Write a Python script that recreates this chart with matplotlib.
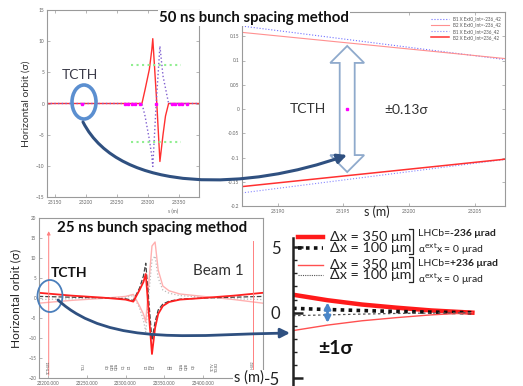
import numpy as np
import matplotlib.pyplot as plt
from matplotlib.patches import Ellipse, Polygon, FancyArrowPatch
from matplotlib.path import Path

plt.rcParams['font.family'] = ['Lato', 'DejaVu Sans']

# --- DATA ---
# top-left: 50 ns method, full bump (sigma)
s_b2_50 = [23137, 23290, 23295, 23302, 23306, 23307.5, 23314, 23319, 23324, 23328, 23333, 23382]
b2_50 = [0, 0, 2.2, 5.5, 8.7, 10.4, 0, -9.3, -5.0, -2.0, 0, 0]
s_b1_50 = [23137, 23290, 23295, 23302, 23306, 23307.5, 23313, 23319, 23324, 23333, 23382]
b1_50 = [0, 0, -2.0, -5.8, -8.5, -10.1, 0, 9.2, 4.4, 0, 0]
s_markers_50 = [23193, 23263, 23268, 23274, 23279, 23287, 23313, 23338, 23344, 23349, 23354, 23362]
s_green = [23272, 23353]
green_level = 6.1

# top-right: zoom at TCTH (sigma)
s_zoom50 = [23187.3, 23207.3]
b1_up = [0.171, 0.102]
b2_up = [0.158, 0.104]
b1_dn = [-0.173, -0.104]
b2_dn = [-0.160, -0.1035]
tcth_s50 = 23195.3
tcth_gap = 0.13
legend_50 = ["B1 X Ext0_Int=-236_42", "B2 X Ext0_Int=-236_42",
             "B1 X Ext0_Int=236_42", "B2 X Ext0_Int=236_42"]

# bottom-left: 25 ns method
s_25 = [23188, 23230, 23270, 23300, 23310, 23318, 23323, 23326, 23330, 23334, 23338,
        23342, 23348, 23356, 23370, 23400, 23440, 23477]
red_350_m = [1.3, 0.6, 0.1, -0.4, -0.9, 2.0, 4.0, 6.0, -4.0, -14.0, -7.5, -4.0, -2.0, -1.0, -0.4, 0.0, 0.6, 1.3]
red_350_p = [-1.3, -0.6, -0.1, 0.4, 0.9, -2.0, -4.0, -6.0, 4.0, 13.0, 14.0, 7.0, 3.0, 1.8, 1.0, 0.4, -0.4, -1.3]
blk_100_m = [0.4, 0.2, 0.05, -0.2, -0.6, 2.5, 5.5, 8.7, -1.0, -10.5, -6.0, -3.0, -1.5, -0.8, -0.3, 0.0, 0.2, 0.4]
gry_100_p = [-0.4, -0.2, -0.05, 0.2, 0.6, -2.5, -5.5, -8.5, 1.0, 9.5, 10.5, 5.0, 2.0, 1.2, 0.6, 0.2, -0.2, -0.4]
tcth_b1_s, tcth_b1_top = 23201, 17.4
tcth_b2_s, tcth_b2_top = 23464, 14.3
elem_s = [23201, 23246, 23276, 23283, 23288, 23297, 23305, 23327, 23333, 23336,
          23356, 23360, 23372, 23378, 23387, 23413, 23418, 23464]
elem_names = ["TCTH.B1", "TCLI", "Q3", "Q2B", "Q2A", "Q1", "D1", "D1", "IP8", "D1",
              "Q1", "D1", "Q2A", "Q2B", "Q3", "TCTV", "TDI.B2", "TCTH.B2"]

# bottom-right: zoom at TCTH (sigma)
s_zoom25 = [0, 1.5, 3, 4.5, 6, 7.8]
z_red_m = [1.37, 0.95, 0.62, 0.38, 0.17, 0]
z_red_p = [-1.37, -0.95, -0.62, -0.38, -0.17, 0]
z_blk_m = [0.33, 0.24, 0.16, 0.09, 0.04, 0]
z_gry_p = [-0.23, -0.17, -0.11, -0.06, -0.03, 0]

W, H = 523, 386
fig = plt.figure(figsize=(W / 100, H / 100), dpi=100)


def box(x0, y0, x1, y1):
    return [x0 / W, 1 - y1 / H, (x1 - x0) / W, (y1 - y0) / H]


def grey_frame(ax, size=3.5):
    for sp in ax.spines.values():
        sp.set_color('#9a9a9a')
        sp.set_linewidth(0.8)
    ax.tick_params(direction='in', length=2, width=0.5, colors='#9a9a9a',
                   labelsize=size, labelcolor='#666666', top=True, right=True, pad=2)


# --- top-left panel ---
ax1 = fig.add_axes(box(47, 10, 199, 197))
ax1.plot(s_b2_50, b2_50, color='#ff3030', lw=1.0)
ax1.plot(s_b1_50, b1_50, color='#8060d0', lw=1.0, ls=':')
ax1.plot(s_markers_50, np.zeros(len(s_markers_50)), 's', color='#ff00ff', ms=1.7, lw=0)
ax1.plot(s_green, [green_level] * 2, color='#90ee90', lw=1.5, ls=':')
ax1.plot(s_green, [-green_level] * 2, color='#90ee90', lw=1.5, ls=':')
ax1.set_xlim(23137, 23382)
ax1.set_ylim(-15, 15)
ax1.set_xticks([23150, 23200, 23250, 23300, 23350])
ax1.set_yticks([-15, -10, -5, 0, 5, 10, 15])
grey_frame(ax1)
ax1.set_ylabel("Horizontal orbit (σ)", fontsize=7.5, color='#333333')
ax1.yaxis.set_label_coords(-0.105, 0.5)

# --- top-right panel ---
ax2 = fig.add_axes(box(242, 12, 505, 206))
ax2.plot(s_zoom50, b1_up, color='#7070ff', lw=0.8, ls=':', label=legend_50[0])
ax2.plot(s_zoom50, b2_up, color='#ff9090', lw=0.8, label=legend_50[1])
ax2.plot(s_zoom50, b1_dn, color='#8888ff', lw=0.8, ls=':', label=legend_50[2])
ax2.plot(s_zoom50, b2_dn, color='#ff3030', lw=1.1, label=legend_50[3])
ax2.plot([tcth_s50], [0], 's', color='#ff00ff', ms=2)
ax2.set_xlim(23187.3, 23207.3)
ax2.set_ylim(-0.2, 0.2)
ax2.set_xticks([23190, 23195, 23200, 23205])
ax2.set_yticks([-0.2, -0.15, -0.1, -0.05, 0, 0.05, 0.1, 0.15, 0.2])
ax2.set_yticklabels(["-0.2", "-0.15", "-0.1", "-0.05", "0", "0.05", "0.1", "0.15", "0.2"])
grey_frame(ax2)
ax2.legend(loc='upper right', fontsize=3.3, frameon=False, handlelength=4,
           labelspacing=0.25, borderaxespad=0.6, labelcolor='#555555')
# hollow double arrow +-0.13 sigma
sw, hw, hl = 0.57, 1.29, 0.035
arrow_pts = [(tcth_s50, tcth_gap), (tcth_s50 + hw, tcth_gap - hl), (tcth_s50 + sw, tcth_gap - hl),
             (tcth_s50 + sw, -tcth_gap + hl), (tcth_s50 + hw, -tcth_gap + hl), (tcth_s50, -tcth_gap),
             (tcth_s50 - hw, -tcth_gap + hl), (tcth_s50 - sw, -tcth_gap + hl),
             (tcth_s50 - sw, tcth_gap - hl), (tcth_s50 - hw, tcth_gap - hl)]
ax2.add_patch(Polygon(arrow_pts, closed=True, facecolor='none', edgecolor='#8faacc', lw=1.3))
ax2.text(23192.3, 0, "TCTH", fontsize=10, color='#333333', ha='center', va='center')
ax2.text(23199.8, -0.003, "±0.13σ", fontsize=10, color='#333333', ha='center', va='center')

# --- bottom-left panel ---
ax3 = fig.add_axes(box(39, 218, 263, 378))
ax3.plot(s_25, gry_100_p, color='#bbbbbb', lw=0.9, ls=':')
ax3.plot(s_25, red_350_p, color='#ffb0b0', lw=1.0)
ax3.plot(s_25, blk_100_m, color='#444444', lw=0.9, ls='--')
ax3.plot(s_25, red_350_m, color='#ff2020', lw=1.3)
ax3.annotate("", xy=(tcth_b1_s, tcth_b1_top), xytext=(tcth_b1_s, -20),
             arrowprops=dict(arrowstyle='-|>', color='#ff8080', lw=0.7, mutation_scale=5))
ax3.plot([tcth_b2_s, tcth_b2_s], [-20, tcth_b2_top], color='#ff8080', lw=0.7)
for s, name in zip(elem_s, elem_names):
    ax3.text(s, -17.2, name, rotation=90, fontsize=2.4, color='#555555',
             ha='center', va='center')
ax3.set_xlim(23188.5, 23477)
ax3.set_ylim(-20, 20)
ax3.set_xticks([23200, 23250, 23300, 23350, 23400])
ax3.set_xticklabels(["23200.000", "23250.000", "23300.000", "23350.000", "23400.000"])
ax3.set_yticks([-20, -15, -10, -5, 0, 5, 10, 15, 20])
grey_frame(ax3, size=3.3)
ax3.tick_params(top=False, right=False)
ax3.set_ylabel("Horizontal orbit (σ)", fontsize=8.5, color='#222222')
ax3.yaxis.set_label_coords(-0.08, 0.5)

# --- bottom-right panel ---
ax4 = fig.add_axes(box(293, 238, 523, 386))
ax4.plot(s_zoom25, z_red_m, color='#ff1a1a', lw=3.2)
ax4.plot(s_zoom25, z_blk_m, color='#111111', lw=2.6, ls=(0, (1, 1.2)))
ax4.plot(s_zoom25, z_red_p, color='#ff5050', lw=1.0)
ax4.plot(s_zoom25, z_gry_p, color='#555555', lw=0.9, ls=(0, (2, 2)))
ax4.annotate("", xy=(1.5, 1.0), xytext=(1.5, -1.0),
             arrowprops=dict(arrowstyle='<|-|>', color='#4a86c8', lw=2, mutation_scale=9))
ax4.set_xlim(0, 10)
ax4.set_ylim(-5.6, 5.7)
for k in ['top', 'right', 'bottom']:
    ax4.spines[k].set_visible(False)
ax4.spines['left'].set_linewidth(1.8)
ax4.spines['left'].set_color('#222222')
ax4.set_xticks([])
ax4.set_yticks([-5, 0, 5])
ax4.set_yticks(np.arange(-5, 6, 1), minor=True)
ax4.tick_params(axis='y', which='major', direction='in', length=7, width=1.8,
                labelsize=12, colors='#222222', pad=9)
ax4.tick_params(axis='y', which='minor', direction='in', length=3, width=1, colors='#222222')
ax4.patch.set_alpha(0)

# --- overlay: titles, circles, curved arrows, legend of bottom-right ---
ov = fig.add_axes([0, 0, 1, 1], zorder=10)
ov.set_xlim(0, W)
ov.set_ylim(H, 0)
ov.axis('off')
ov.patch.set_alpha(0)

ov.text(254, 18, "50 ns bunch spacing method", fontsize=10.8, fontweight='bold',
        ha='center', va='center', color='#111111',
        bbox=dict(facecolor='white', edgecolor='none', pad=1))
ov.text(152, 228, "25 ns bunch spacing method", fontsize=10.8, fontweight='bold',
        ha='center', va='center', color='#111111')
ov.text(80, 75, "TCTH", fontsize=10, ha='center', va='center', color='#3a3a48')
ov.text(69, 273, "TCTH", fontsize=10, fontweight='bold', ha='center', va='center', color='#111111')
ov.text(218, 271, "Beam 1", fontsize=11, ha='center', va='center', color='#333333')
ov.text(173, 211, "s (m)", fontsize=3.5, ha='center', va='center', color='#666666')
ov.text(377, 212, "s (m)", fontsize=9, ha='center', va='center', color='#222222')
ov.text(249, 378, "s (m)", fontsize=10.5, ha='center', va='center', color='#222222',
        bbox=dict(facecolor='white', edgecolor='none', pad=0.5))
ov.text(335, 348, "±1σ", fontsize=14, fontweight='bold', ha='center', va='center', color='#111111')

ov.add_patch(Ellipse((84, 102), 24, 34, facecolor='none', edgecolor='#5b8fd0', lw=2.6))
ov.add_patch(Ellipse((50, 296), 25, 32, facecolor='none', edgecolor='#4a7ebb', lw=1.3))

top_curve = Path([(83, 122), (120, 195), (250, 190), (347, 155)],
                 [Path.MOVETO, Path.CURVE4, Path.CURVE4, Path.CURVE4])
ov.add_patch(FancyArrowPatch(path=top_curve, arrowstyle='-|>', mutation_scale=14,
                             color='#2f5080', lw=2.2))
bot_curve = Path([(58, 300), (110, 348), (200, 334), (290, 333)],
                 [Path.MOVETO, Path.CURVE4, Path.CURVE4, Path.CURVE4])
ov.add_patch(FancyArrowPatch(path=bot_curve, arrowstyle='-|>', mutation_scale=14,
                             color='#2f5080', lw=2.0))

# bottom-right legend
leg_y = [237, 248, 265, 275]
leg_style = [dict(color='#ff1a1a', lw=3.2), dict(color='#111111', lw=2.6, ls=(0, (1, 1.2))),
             dict(color='#ff5050', lw=1.0), dict(color='#555555', lw=0.8, ls=(0, (1, 1)))]
leg_text = ["Δx = 350 μm", "Δx = 100 μm", "Δx = 350 μm", "Δx = 100 μm"]
for y, st, t in zip(leg_y, leg_style, leg_text):
    ov.plot([298, 323], [y, y], **st)
    ov.text(330, y, t, fontsize=10.4, ha='left', va='center', color='#222222')
for y0, y1 in [(229, 254), (257, 282)]:
    ov.plot([409, 413, 413, 409], [y0, y0, y1, y1], color='#222222', lw=0.9)
for y, sign in [(233, "-236 μrad"), (264, "+236 μrad")]:
    t = ov.text(418, y, "LHCb=", fontsize=7.5, ha='left', va='center', color='#222222')
    ov.annotate(sign, xy=(1, 0.5), xycoords=t, fontsize=7.5, fontweight='bold',
                ha='left', va='center', color='#222222')
ov.text(418, 249, r"α$^{\rm ext}$x = 0 μrad", fontsize=7.5, ha='left', va='center', color='#222222')
ov.text(418, 279, r"α$^{\rm ext}$x = 0 μrad", fontsize=7.5, ha='left', va='center', color='#222222')

fig.savefig("out.png", dpi=100)
